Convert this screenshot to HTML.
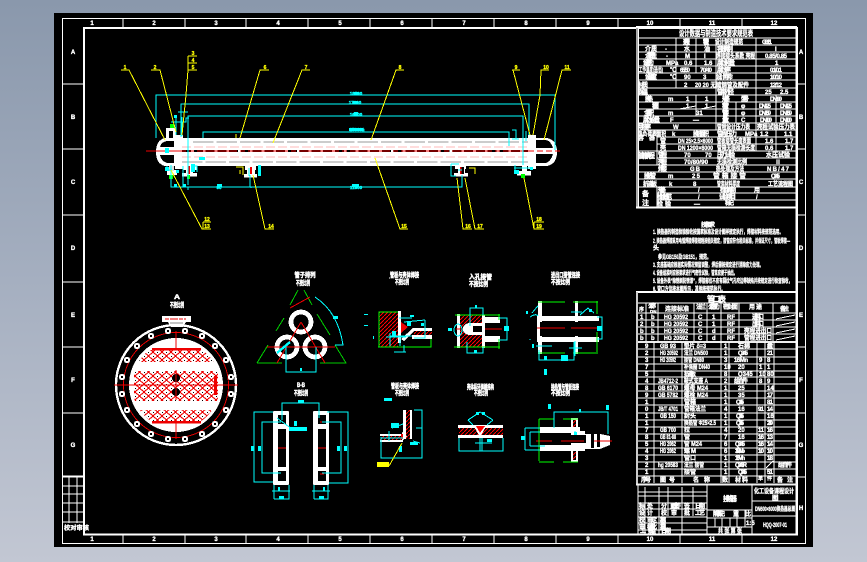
<!DOCTYPE html>
<html><head><meta charset="utf-8"><style>
html,body{margin:0;padding:0;width:867px;height:562px;overflow:hidden;background:linear-gradient(180deg,#8a98ac 0%,#a5afc0 50%,#c2c7d3 100%)}
svg{position:absolute;left:0;top:0}
text{font-family:"Liberation Sans","Noto Sans CJK SC",sans-serif;font-weight:bold}
.w text,text.w{fill:#fff;stroke:#fff;stroke-width:.35;font-size:6px}
.c text{fill:#0ff;stroke:#0ff;stroke-width:.4;font-size:4.5px}
.y text{fill:#ff0;stroke:#ff0;stroke-width:.3;font-size:5px}
.t text{fill:#fff;stroke:#fff;stroke-width:.5;font-size:6.5px}
</style></head><body>
<svg width="867" height="562" viewBox="0 0 867 562" shape-rendering="crispEdges">
<defs>
<pattern id="h" width="4" height="4" patternUnits="userSpaceOnUse"><rect width="4" height="4" fill="#000"/><path d="M0 4L4 0" stroke="#f00" stroke-width="1"/></pattern>
<pattern id="net" width="9" height="8" patternUnits="userSpaceOnUse"><rect width="9" height="8" fill="#fff"/><path d="M0 0L9 8M9 0L0 8" stroke="#e00" stroke-width="1.1"/><rect x="4" y="0" width="1" height="1" fill="#000"/><rect x="0" y="4" width="1" height="1" fill="#000"/></pattern>
<g id="bolt"><circle r="3.2" fill="#fff"/><circle r="1.2" fill="#000"/></g>
</defs>
<rect x="54" y="13" width="759" height="534" fill="#000"/>
<!-- sheet frames -->
<rect x="62.5" y="18.5" width="743" height="525" fill="none" stroke="#fff"/>
<rect x="84" y="28" width="713" height="506.5" fill="none" stroke="#fff" stroke-width="2"/>
<path d="M123 18V28M185 18V28M246 18V28M308 18V28M370 18V28M432 18V28M494 18V28M556 18V28M618 18V28M680 18V28M742 18V28M123 534V543M185 534V543M246 534V543M308 534V543M370 534V543M432 534V543M494 534V543M556 534V543M618 534V543M680 534V543M742 534V543M62 84H84M62 149H84M62 215H84M62 282H84M62 347H84M62 413H84M62 477H84M797 84H806M797 149H806M797 215H806M797 282H806M797 347H806M797 413H806M797 477H806" stroke="#fff" stroke-width="1"/>
<g class="w" text-anchor="middle" style="font-size:5px">
<text x="92" y="25">1</text><text x="154" y="25">2</text><text x="216" y="25">3</text><text x="278" y="25">4</text><text x="340" y="25">5</text><text x="402" y="25">6</text><text x="464" y="25">7</text><text x="526" y="25">8</text><text x="588" y="25">9</text><text x="650" y="25">10</text><text x="712" y="25">11</text><text x="774" y="25">12</text>
<text x="92" y="541">1</text><text x="154" y="541">2</text><text x="216" y="541">3</text><text x="278" y="541">4</text><text x="340" y="541">5</text><text x="402" y="541">6</text><text x="464" y="541">7</text><text x="526" y="541">8</text><text x="588" y="541">9</text><text x="650" y="541">10</text><text x="712" y="541">11</text><text x="774" y="541">12</text>
<text x="73" y="54">A</text><text x="73" y="119">B</text><text x="73" y="184">C</text><text x="73" y="250">D</text><text x="73" y="317">E</text><text x="73" y="382">F</text><text x="73" y="447">G</text>
<text x="801" y="54">A</text><text x="801" y="119">B</text><text x="801" y="184">C</text><text x="801" y="250">D</text><text x="801" y="317">E</text><text x="801" y="382">F</text><text x="801" y="447">G</text><text x="801" y="510">H</text>
</g>
<!-- lower left box -->
<path d="M62 476H84M62 486H84M62 494H84M62 503H84M62 512H84M62 522H84M69 476V523M77 476V523" stroke="#fff" fill="none"/>
<path d="M62 476.5H84" stroke="#fff" stroke-width="2"/>
<text class="w" x="64" y="530" textLength="25" lengthAdjust="spacingAndGlyphs">校对审核</text>

<!-- ===== main vessel ===== -->
<path d="M175 138H165Q156 140 156 152Q156 164 165 166H175Z" fill="#fff"/>
<path d="M174 141H167Q161 142 160 147H174ZM174 155H160Q161 161 167 163H174Z" fill="#000"/>
<rect x="175" y="135" width="8" height="34" fill="#fff"/>
<rect x="166" y="128" width="10" height="10" fill="#fff"/><rect x="169" y="131" width="4" height="7" fill="#000"/>
<rect x="167" y="170" width="10" height="5" fill="#fff"/><rect x="169" y="166" width="5" height="5" fill="#ddd"/>
<rect x="175" y="138" width="354" height="28" fill="#fff"/>
<path d="M193 142H528" stroke="#999" stroke-width="1.4" stroke-dasharray="20.5 3"/>
<path d="M182 162H528" stroke="#999" stroke-width="1.4" stroke-dasharray="20.5 3"/>
<path d="M182 147H528M182 157H528" stroke="#ffb8b8" stroke-width="1" stroke-dasharray="9 3"/>
<path d="M182 151H528" stroke="#000" stroke-width="2.4" stroke-dasharray="9 2.75"/>
<path d="M146 151H528" stroke="#e00" stroke-width="1" stroke-dasharray="40 3 5 3"/>
<rect x="528" y="135" width="8" height="34" fill="#fff"/>
<path d="M536 138H547Q557 140 557 152Q557 164 547 166H536Z" fill="#fff"/>
<path d="M536 140H546Q551 141 553 148H536ZM536 154H553Q551 161 546 163H536Z" fill="#000"/>
<path d="M528 151H560" stroke="#e00" stroke-dasharray="6 3"/>
<!-- saddles -->
<g fill="#fff">
<rect x="183" y="166" width="14" height="4"/><rect x="182" y="173" width="15" height="3.5"/><rect x="186" y="166" width="7" height="9"/>
<rect x="245" y="166" width="11" height="4"/><rect x="244" y="174" width="13" height="3.5"/><rect x="247" y="166" width="8" height="9"/>
<rect x="455" y="165" width="11" height="4"/><rect x="454" y="173" width="14" height="3.5"/><rect x="458" y="165" width="7" height="9"/>
<rect x="517" y="171" width="14" height="4.5"/><rect x="522" y="165" width="5" height="7"/>
</g>
<g fill="#e00"><rect x="188" y="166" width="2" height="8"/><rect x="250" y="167" width="2" height="7"/><rect x="461" y="167" width="3" height="7" fill="#000"/><rect x="460" y="167" width="1.4" height="7"/></g>
<g fill="#0f0"><rect x="170" y="124" width="4" height="4"/><rect x="169" y="175" width="4" height="4"/><rect x="187" y="175" width="3" height="4"/><rect x="521" y="174" width="4" height="4"/></g>
<!-- cyan dims main -->
<g fill="none" stroke="#0ff">
<path d="M156 138V95H555V150M181 137V104H529V135M188 185V116H523V165M203 138V132H509V146"/>
<path d="M171 165V187H462V175M250 175V187M183 166V187M188 187V190M251 187V188"/>
<path d="M171 122H186V118H189M178 112H188M176 118V135M182 117V136M193 166H197V172M167 166V170M165 170H172"/>
<path d="M526 131V141M512 130H516V139M512 139H519M451 164H459M451 164V176H456M514 168H533M515 165V172"/>
<path d="M249 168V176M458 170H462"/>
</g>
<g fill="#0ff"><rect x="165" y="148" width="4" height="5"/><rect x="165" y="167" width="4" height="4"/><rect x="174" y="115" width="3" height="3"/><rect x="199" y="157" width="6" height="3"/><rect x="514" y="170" width="5" height="4"/><rect x="176" y="170" width="3" height="3"/><rect x="191" y="164" width="4" height="8"/><rect x="258" y="165" width="3" height="11"/><rect x="530" y="167" width="3" height="3"/></g>
<g class="c" text-anchor="middle"><text x="356" y="95">18500</text><text x="355" y="104">17800</text><text x="356" y="116">16800</text><text x="357" y="131">15000±</text><text x="219" y="189">90</text><text x="356" y="189">11500</text><text x="356" y="189">●</text></g>
<rect x="352" y="184" width="5" height="3" fill="#0ff"/><rect x="354" y="92" width="5" height="3" fill="#0ff"/><rect x="353" y="101" width="5" height="3" fill="#0ff"/><rect x="354" y="112" width="4" height="4" fill="#0ff"/><rect x="349" y="128" width="14" height="3" fill="#0ff"/><rect x="354" y="184" width="5" height="3" fill="#0ff"/><rect x="174" y="184" width="3" height="3" fill="#0ff"/><rect x="183" y="184" width="3" height="3" fill="#0ff"/><rect x="217" y="184" width="5" height="3" fill="#0ff"/>
<!-- leaders -->
<g fill="none" stroke="#ff0">
<path d="M121 70H129L165 140M151 70H160L176 132M188 56H197M188 63H197M188 56V70H197M188 70L186 95L182 135"/>
<path d="M269 70H260L240 138M310 70H302L273 143M404 70H396L371 140"/>
<path d="M512 70H520M513 70L530 135M549 70H541L540 95L533 135M571 70H562L544 140"/>
<path d="M171 170L202 229H211M203 222H211M203 222V229M253 175L265 229H274M375 158L400 229H408M457 178L463 229H472M465 178L475 229H484M524 178L534 229H544M534 222H544M534 222V229"/>
</g>
<path d="M236 134V138" stroke="#ff0"/><path d="M236 167H243V175M240 170V174" stroke="#ff0" fill="none"/><path d="M469 168H475V174" stroke="#ff0" fill="none"/>
<g class="y" text-anchor="middle">
<text x="125" y="69">1</text><text x="155" y="69">2</text><text x="193" y="55">3</text><text x="193" y="62">4</text><text x="193" y="69">5</text><text x="265" y="69">6</text><text x="306" y="69">7</text><text x="400" y="69">8</text><text x="516" y="69">9</text><text x="546" y="69">10</text><text x="567" y="69">11</text>
<text x="207" y="221">12</text><text x="207" y="228">13</text><text x="271" y="228">14</text><text x="404" y="228">15</text><text x="468" y="228">16</text><text x="480" y="228">17</text><text x="539" y="221">18</text><text x="539" y="228">19</text>
</g>

<!-- ===== big circle ===== -->
<g class="t" text-anchor="middle"><text x="177" y="299" textLength="6" lengthAdjust="spacingAndGlyphs">A</text><text x="177" y="307" textLength="14" lengthAdjust="spacingAndGlyphs">不按比例</text></g>
<rect x="162" y="316" width="29" height="6" fill="#fff"/><path d="M165 319H186" stroke="#e00" stroke-dasharray="4 1 8 1"/><path d="M168 322L171 327H183L186 322Z" fill="#fff"/><path d="M170 323H183" stroke="#888"/>
<circle cx="176" cy="385" r="60" fill="none" stroke="#fff" stroke-width="2.4"/>
<circle cx="176" cy="385" r="52.5" fill="none" stroke="#e00" stroke-width=".9"/>
<circle cx="176" cy="385" r="47" fill="#fff"/>
<circle cx="176" cy="385" r="44" fill="#fff"/>
<clipPath id="cl"><circle cx="176" cy="385" r="44"/></clipPath>
<g clip-path="url(#cl)">
<rect x="136" y="350" width="82" height="12" fill="url(#net)"/>
<rect x="134" y="371" width="84" height="30" fill="url(#net)"/>
<rect x="136" y="410" width="82" height="13" fill="url(#net)"/>
<rect x="130" y="362" width="90" height="9" fill="#fff"/><rect x="130" y="401" width="90" height="9" fill="#fff"/>
<path d="M142 350H210V352H142ZM142 420H210V424H142Z" fill="#000" opacity="0"/>
</g>
<circle cx="176" cy="378" r="4" fill="#000"/><circle cx="176" cy="392" r="4" fill="#000"/>
<path d="M114 385H238M176 331V348M176 370V400M176 423V439" stroke="#e00"/>
<rect x="152" y="348" width="49" height="2.5" fill="#e00"/><rect x="152" y="421" width="49" height="2.5" fill="#e00"/><rect x="214" y="376" width="3" height="19" fill="#e00"/>
<use href="#bolt" x="168" y="331"/><use href="#bolt" x="185" y="331"/><use href="#bolt" x="151" y="336"/><use href="#bolt" x="202" y="336"/><use href="#bolt" x="137" y="346"/><use href="#bolt" x="215" y="346"/><use href="#bolt" x="127" y="360"/><use href="#bolt" x="226" y="360"/><use href="#bolt" x="122" y="377"/><use href="#bolt" x="231" y="377"/><use href="#bolt" x="122" y="394"/><use href="#bolt" x="231" y="394"/><use href="#bolt" x="127" y="410"/><use href="#bolt" x="226" y="410"/><use href="#bolt" x="137" y="424"/><use href="#bolt" x="215" y="424"/><use href="#bolt" x="151" y="434"/><use href="#bolt" x="202" y="434"/><use href="#bolt" x="168" y="439"/><use href="#bolt" x="185" y="439"/>

<!-- ===== triangle view ===== -->
<g class="t" text-anchor="middle"><text x="305" y="277" textLength="21" lengthAdjust="spacingAndGlyphs">管子排列</text><text x="303" y="285" textLength="14" lengthAdjust="spacingAndGlyphs">不按比例</text></g>
<g fill="none" stroke="#0c0"><path d="M257 363L268 345M276 331L284 318M290 305L298 290M304 290L312 305M317 314L330 335M335 345L346 363H320M282 363H257"/></g>
<g fill="none" stroke="#fff" stroke-width="4.8"><circle cx="301" cy="322" r="10"/><circle cx="287" cy="347" r="10"/><circle cx="315" cy="347" r="10"/></g>
<path d="M301 322L277 363M301 322L325 363M267 347H335M290 308L310 297" stroke="#e00" fill="none"/>
<path d="M315 297Q338 312 343 345H335" fill="none" stroke="#0ff"/><path d="M286 347V372H316V347" fill="none" stroke="#0ff"/>
<path d="M277 353L290 342" stroke="#0ff" stroke-width="2.4"/><rect x="333" y="316" width="5" height="3" fill="#0ff"/><rect x="300" y="368" width="2" height="3" fill="#0ff"/>

<!-- ===== plates ===== -->
<g class="t" text-anchor="middle"><text x="301" y="387" textLength="8" lengthAdjust="spacingAndGlyphs">B-B</text><text x="301" y="395" textLength="14" lengthAdjust="spacingAndGlyphs">不按比例</text></g>
<rect x="273" y="411" width="16" height="74" rx="1.5" fill="#fff"/><rect x="313" y="411" width="16" height="74" rx="1.5" fill="#fff"/>
<g fill="#000"><rect x="278" y="429" width="8" height="38"/><rect x="318" y="429" width="8" height="38"/><rect x="278" y="415" width="8" height="9"/><rect x="318" y="415" width="8" height="9"/><rect x="278" y="471" width="8" height="10"/><rect x="318" y="471" width="8" height="10"/></g>
<path d="M278 448H286M318 448H326M320 422H324M320 474H324" stroke="#e00"/>
<g fill="none" stroke="#0ff">
<path d="M282 420V403H319V418"/>
<path d="M273 412H254V482H273M281 422H262V473H281M327 412H348V483H329M322 422H341V473H322"/>
<path d="M274 485V499M289 485V499H274M314 485V499M328 485V499H314M272 491H290M312 491H330"/>
<path d="M277 418L292 429"/>
</g>
<g fill="#0ff"><rect x="298" y="400" width="6" height="3"/><rect x="289" y="427" width="18" height="4"/><rect x="294" y="421" width="3" height="5"/><rect x="251" y="446" width="3" height="5"/><rect x="258" y="446" width="3" height="5"/><rect x="337" y="446" width="3" height="5"/><rect x="344" y="446" width="3" height="5"/><rect x="278" y="487" width="2" height="4"/><rect x="323" y="487" width="2" height="4"/><rect x="279" y="496" width="5" height="3"/><rect x="319" y="496" width="5" height="3"/></g>

<!-- ===== view A ===== -->
<g class="t"><text x="390" y="277" textLength="29" lengthAdjust="spacingAndGlyphs">管板与壳体焊接</text><text x="395" y="284" textLength="14" lengthAdjust="spacingAndGlyphs">不按比例</text></g>
<path d="M389 278H390" stroke="#fff"/>
<rect x="379" y="312" width="19" height="35" fill="url(#h)"/>
<path d="M379 347V312H398M378 347H431V328" fill="none" stroke="#0f0"/>
<rect x="398" y="311" width="3" height="32" fill="#fff"/>
<path d="M401 322V333L408 327Z" fill="#e00"/>
<path d="M401 339L413 328H432V331H414L404 341ZM412 335H432V339H412Z" fill="#fff"/>
<rect x="414" y="331" width="18" height="4" fill="url(#h)"/>
<g fill="none" stroke="#0ff"><path d="M425 320V338H414M399 318H412M404 322L425 320M390 336H412M390 346V333M400 346V338M404 345V352M394 352H406M386 337H406"/></g>
<g fill="#0ff"><rect x="364" y="314" width="4" height="1"/><rect x="364" y="325" width="4" height="1"/><rect x="373" y="336" width="1" height="3"/><rect x="410" y="315" width="4" height="2"/><rect x="407" y="321" width="4" height="5"/><rect x="421" y="323" width="3" height="3"/><rect x="392" y="331" width="4" height="5"/></g>

<!-- ===== view B ===== -->
<g class="t"><text x="469" y="279" textLength="23" lengthAdjust="spacingAndGlyphs">入孔接管</text><text x="469" y="286" textLength="19" lengthAdjust="spacingAndGlyphs">不按比例</text></g>
<rect x="460" y="315" width="22" height="32" fill="url(#h)"/>
<path d="M463 329Q463 324 469 323H482V335H469Q463 334 463 329Z" fill="#fff"/><rect x="473" y="326" width="9" height="6" fill="#000"/>
<rect x="457" y="314" width="3" height="34" fill="#fff"/><rect x="482" y="315" width="3" height="33" fill="#fff"/>
<path d="M485 317H500V323H485ZM485 336H500V342H485Z" fill="#fff"/>
<path d="M485 329H502M456 329H461" stroke="#e00"/>
<path d="M455 315H500M454 347H500M499 314V320M499 339V349" stroke="#0f0" fill="none"/>
<g fill="none" stroke="#0ff"><ellipse cx="458" cy="330" rx="4" ry="6"/><path d="M470 326V308H483V315M467 342V353H483V347M499 318H507V340H499"/></g>
<g fill="#0ff"><rect x="448" y="328" width="4" height="3"/><rect x="475" y="305" width="2" height="3"/><rect x="504" y="326" width="5" height="5"/><rect x="474" y="350" width="3" height="3"/></g>

<!-- ===== view C ===== -->
<g class="t"><text x="551" y="277" textLength="29" lengthAdjust="spacingAndGlyphs">进出口接管连接</text><text x="551" y="284" textLength="19" lengthAdjust="spacingAndGlyphs">不按比例</text></g>
<rect x="538" y="301" width="4" height="53" fill="#fff"/><rect x="575" y="301" width="3" height="53" fill="#fff"/>
<rect x="537" y="316" width="62" height="5" fill="#fff"/><rect x="537" y="337" width="62" height="5" fill="#fff"/><rect x="537" y="316" width="3" height="26" fill="#fff"/>
<rect x="538" y="322" width="60" height="14" fill="#000"/><rect x="537" y="316" width="3" height="26" fill="#fff"/>
<path d="M537 328H565M571 328H597" stroke="#e00"/>
<path d="M538 302H565M573 302H598M538 353H565M573 353H598M597 301V314M597 332V352" stroke="#0f0" fill="none"/>
<g fill="none" stroke="#0ff"><path d="M597 317H602V339H597M539 350V360H574V342M530 339V340M532 313Q536 308 538 306M530 317Q536 313 538 316M571 312H582M580 315L588 308L594 313M569 348H582M575 341V356M536 346H552"/></g>
<g fill="#0ff"><rect x="597" y="326" width="5" height="5"/><rect x="561" y="355" width="7" height="6"/><rect x="544" y="356" width="3" height="4"/><rect x="544" y="369" width="3" height="6"/><rect x="526" y="311" width="2" height="3"/><rect x="589" y="309" width="3" height="3"/><rect x="532" y="344" width="2" height="4"/></g>

<!-- ===== view D ===== -->
<g class="t"><text x="391" y="388" textLength="28" lengthAdjust="spacingAndGlyphs">管板与壳体焊接</text><text x="395" y="395" textLength="14" lengthAdjust="spacingAndGlyphs">不按比例</text></g>
<rect x="403" y="410" width="3" height="29" fill="#fff"/><rect x="410" y="410" width="2" height="29" fill="#fff"/><rect x="406" y="410" width="4" height="29" fill="url(#h)"/>
<path d="M380 434H402V436H380ZM380 440H403V442H380Z" fill="#fff"/><rect x="380" y="436" width="22" height="4" fill="url(#h)"/>
<path d="M402 432L407 436L402 441Z" fill="#fff"/><rect x="401" y="434" width="2" height="5" fill="#e00"/>
<g fill="none" stroke="#0ff"><path d="M381 437V458H422V410H414M416 428H422M389 431V441M381 438H403M392 428L403 424M413 441L420 443"/></g>
<g fill="#0ff"><rect x="384" y="398" width="8" height="3"/><rect x="391" y="423" width="8" height="5"/><rect x="399" y="446" width="3" height="6"/><rect x="410" y="442" width="8" height="3"/></g>
<path d="M402 443L389 466" stroke="#ff0"/><rect x="377" y="462" width="12" height="5" fill="#ff0"/>

<!-- ===== view E ===== -->
<g class="t"><text x="467" y="389" textLength="27" lengthAdjust="spacingAndGlyphs">壳体纵环焊缝结构</text><text x="474" y="395" textLength="14" lengthAdjust="spacingAndGlyphs">不按比例</text></g>
<rect x="458" y="425" width="45" height="3" fill="#fff"/><rect x="458" y="435" width="45" height="3" fill="#fff"/>
<rect x="459" y="428" width="44" height="7" fill="url(#h)"/>
<path d="M473 425H487L480 437Z" fill="#fff"/><path d="M476 426H485L480 433Z" fill="#f00"/>
<g fill="none" stroke="#0ff"><path d="M459 438V451H503V438M480 438V451M482 438V451M468 420L480 412L493 420M468 420L473 425M493 420L487 425M475 443H492"/></g>
<g fill="#0ff"><rect x="476" y="412" width="3" height="3"/><rect x="482" y="412" width="3" height="3"/><rect x="487" y="439" width="5" height="3"/></g>

<!-- ===== view F ===== -->
<g class="t"><text x="551" y="389" textLength="28" lengthAdjust="spacingAndGlyphs">换热管与管板连接</text><text x="551" y="395" textLength="19" lengthAdjust="spacingAndGlyphs">不按比例</text></g>
<rect x="571" y="418" width="7" height="44" fill="#fff"/><rect x="573" y="420" width="3" height="40" fill="url(#h)"/>
<rect x="540" y="427" width="40" height="6" fill="#fff"/><rect x="540" y="445" width="40" height="6" fill="#fff"/>
<path d="M580 431H585V434H600L610 436V445L600 449H585V451H572V433H578V431Z" fill="#fff"/>
<rect x="556" y="435" width="32" height="8" fill="#000"/><rect x="586" y="435" width="5" height="8" fill="#fff"/><rect x="591" y="433" width="3" height="15" fill="#000"/><rect x="597" y="434" width="3" height="13" fill="#000"/>
<path d="M536 441H552M561 441H584M594 441H612" stroke="#e00"/>
<path d="M539 419V461M539 419H554M563 419H578M539 462H554M563 462H578" stroke="#0f0" fill="none"/>
<g fill="none" stroke="#0ff"><path d="M554 428V412H608V434M525 428H540M525 450H540M525 428V450M530 432H540M530 446H545M530 432V446M575 431V433"/></g>
<g fill="#0ff"><rect x="521" y="436" width="4" height="4"/><rect x="579" y="409" width="2" height="3"/><rect x="606" y="405" width="3" height="5"/><rect x="548" y="404" width="3" height="5"/><rect x="574" y="432" width="3" height="3"/></g>

<!-- ===== design data table ===== -->
<path d="M636 27H797" stroke="#fff" stroke-width="2"/>
<rect x="636" y="28" width="2" height="180" fill="#aaa"/>
<path d="M638 38H796M638 45H796M638 52H796M638 59H796M638 66H796M638 73H796M638 80H796M638 88H796M638 95H796M638 102H796M638 109H796M638 116H796M638 123H796M638 130H796M657 137H796M657 144H796M638 151H796M657 158H796M638 165H796M638 172H796M638 179H796M638 187H796M657 193H796M657 200H796" stroke="#fff"/>
<path d="M638.5 28V207M676 38V88M696 38V73M716 38V130M756 38V151M776 95V123M736 102V123M776 130V151M657 130V165M696 95V116M657 187V207" stroke="#fff" fill="none"/>
<path d="M636 207.5H797" stroke="#fff" stroke-width="2"/>
<path d="M679 109L696 106M700 109L716 106" stroke="#fff"/>
<g class="w" style="font-size:5.5px">
<text x="679" y="36" style="font-size:8px" textLength="74" lengthAdjust="spacingAndGlyphs">设计数据与制造技术要求规范表</text>
<text x="683" y="44" textLength="7">壳程</text><text x="703" y="44" textLength="6">管程</text><text x="715" y="44" textLength="28" lengthAdjust="spacingAndGlyphs">设计制造规范</text><text x="762" y="44" textLength="10">GB151</text>
<text x="645" y="51" textLength="12">介质</text><text x="665" y="51">-</text><text x="684" y="51" textLength="4">水</text><text x="704" y="51">油</text><text x="717" y="51" textLength="16">容器类别</text><text x="775" y="51">I</text>
<text x="645" y="58" textLength="12">介质特性</text><text x="666" y="58">-</text><text x="685" y="58">M</text><text x="704" y="58">I</text><text x="716" y="58" textLength="39" lengthAdjust="spacingAndGlyphs">焊接接头系数 壳程</text><text x="765" y="58" textLength="22">0.85/0.85</text>
<text x="643" y="65" textLength="11">设计压力</text><text x="666" y="65">MPa</text><text x="684" y="65">0.6</text><text x="704" y="65">1.6</text><text x="717" y="65" textLength="18">腐蚀裕量</text><text x="775" y="65">1</text>
<text x="639" y="72" textLength="24" lengthAdjust="spacingAndGlyphs">工作温度(进/出)</text><text x="670" y="72">℃</text><text x="680" y="72" textLength="10">65/50</text><text x="700" y="72" textLength="12">70/40</text><text x="717" y="72" textLength="14">腐蚀率</text><text x="770" y="72" textLength="12">0.1/0.1</text>
<text x="645" y="79" textLength="12">设计温度</text><text x="670" y="79">℃</text><text x="684" y="79">90</text><text x="703" y="79">3</text><text x="716" y="79" textLength="17">设计寿命</text><text x="770" y="79" textLength="12">10/10</text>
<text x="638" y="87" textLength="10">材质</text><text x="684" y="87">2</text><text x="695" y="87" textLength="54" lengthAdjust="spacingAndGlyphs">20 20 无缝钢管及配件</text><text x="770" y="87" textLength="12">12/12</text>
<text x="638" y="94" textLength="10">保温</text><text x="717" y="94" textLength="17">管束外径</text><text x="765" y="94">25</text><text x="780" y="94">2.5</text>
<text x="645" y="101" textLength="8">换热</text><text x="668" y="101">m</text><text x="686" y="101">1</text><text x="705" y="101">1</text><text x="722" y="101" textLength="8">规格</text><text x="741" y="101" textLength="8">型号</text><text x="770" y="101" textLength="12">DN600</text>
<text x="652" y="108" textLength="5">面积</text><text x="686" y="108">1</text><text x="705" y="108">1</text><text x="722" y="108" textLength="5">管程</text><text x="741" y="108">φ</text><text x="759" y="108" textLength="12">DN125</text><text x="780" y="108" textLength="12">DN125</text>
<text x="644" y="115" textLength="10">全容积</text><text x="668" y="115">m</text><text x="696" y="115">31</text><text x="722" y="115" textLength="5">接管</text><text x="741" y="115">φ</text><text x="759" y="115" textLength="12">DN150</text><text x="780" y="115" textLength="12">DN150</text>
<text x="643" y="122" textLength="17">腐蚀余量</text><text x="670" y="122">F</text><text x="693" y="122" textLength="10">—</text><text x="722" y="122" textLength="5">数量</text><text x="741" y="122">C</text><text x="760" y="122" textLength="12">DN100</text><text x="780" y="122" textLength="12">DN100</text>
<text x="638" y="129" textLength="13">导热率</text><text x="673" y="129">W</text><text x="717" y="129" textLength="33" lengthAdjust="spacingAndGlyphs">管程设计压力表</text><text x="757" y="129" textLength="38" lengthAdjust="spacingAndGlyphs">壳程试验压力表</text>
<text x="638" y="136" textLength="28" lengthAdjust="spacingAndGlyphs">热负荷表面积</text><text x="672" y="136">k</text><text x="693" y="136" textLength="16">换热面积</text><text x="717" y="136" textLength="20">管程压力</text><text x="745" y="136">MPa</text><text x="760" y="136">1.2</text><text x="784" y="136">1.1</text>
<text x="660" y="143">管</text><text x="678" y="143" textLength="35" lengthAdjust="spacingAndGlyphs">DN 25×2.5×6000</text><text x="717" y="143" textLength="34" lengthAdjust="spacingAndGlyphs">管板接管长度表面</text><text x="765" y="143">1.6</text><text x="785" y="143">1.7</text>
<text x="660" y="150">壳</text><text x="678" y="150" textLength="35" lengthAdjust="spacingAndGlyphs">DN 1200×6000</text><text x="717" y="150" textLength="38" lengthAdjust="spacingAndGlyphs">管箱无损检测长度</text><text x="765" y="150">0.6</text><text x="785" y="150">1.7</text>
<text x="638" y="140" textLength="17">容器</text><text x="638" y="158" textLength="17" style="font-size:7px">管箱壳程</text>
<text x="658" y="157" textLength="9">管程</text><text x="684" y="157">70</text><text x="705" y="157">70</text><text x="717" y="157" textLength="18">压力试验</text><text x="766" y="157" textLength="24" lengthAdjust="spacingAndGlyphs">水压试验</text>
<text x="658" y="164" textLength="9">壳程</text><text x="684" y="164" textLength="24" lengthAdjust="spacingAndGlyphs">70/80/90</text><text x="717" y="164" textLength="30" lengthAdjust="spacingAndGlyphs">无损检测比例</text><text x="775" y="164">Ⅱ</text>
<text x="658" y="171" textLength="9">焊接</text><text x="690" y="171" textLength="10">GB</text><text x="716" y="171" textLength="28" lengthAdjust="spacingAndGlyphs">热处理及方法</text><text x="767" y="171" textLength="22">NB/47</text>
<text x="644" y="178" textLength="12">换热管</text><text x="668" y="178">m</text><text x="692" y="178" textLength="8">25</text><text x="713" y="178" textLength="33" lengthAdjust="spacingAndGlyphs">管 箱 接 管</text><text x="771" y="178" textLength="9">Q345</text>
<text x="643" y="186" textLength="14">折流板</text><text x="669" y="186">k</text><text x="693" y="186" textLength="6">8</text><text x="717" y="186" textLength="23" lengthAdjust="spacingAndGlyphs">管束材料厚度</text><text x="768" y="186" textLength="25" lengthAdjust="spacingAndGlyphs">工艺流程图</text>
<text x="642" y="196" style="font-size:7px">备</text><text x="642" y="205" style="font-size:7px">注</text>
<text x="658" y="192" textLength="8">规格</text><text x="698" y="192">/</text><text x="720" y="192" textLength="16">检验周期</text><text x="754" y="192">用</text>
<text x="657" y="199" textLength="15">检验规范</text><text x="698" y="199">/</text><text x="719" y="199" textLength="17">试验项目</text><text x="756" y="199">/</text>
<text x="657" y="206" textLength="14">检验</text><text x="694" y="206" textLength="6">—</text><text x="725" y="205" textLength="9">标记</text>
</g>

<!-- ===== notes ===== -->
<g class="w" style="font-size:6.5px">
<text x="701" y="227" textLength="14">技术要求</text>
<text x="653" y="234" textLength="130" lengthAdjust="spacingAndGlyphs">1. 换热器的制造检验验收按国家标准及设计图样规定执行，焊接材料按规范选用。</text>
<text x="653" y="243" textLength="137" lengthAdjust="spacingAndGlyphs">2. 换热器焊接采用电弧焊接焊接规程按相关规定，接管应符合相关标准，并保证尺寸，管板焊接—</text>
<text x="653" y="250" textLength="5">头</text>
<text x="658" y="259" textLength="53" lengthAdjust="spacingAndGlyphs">参见GB150及GB151，规范。</text>
<text x="653" y="267" textLength="110" lengthAdjust="spacingAndGlyphs">3. 支座基础应根据实际情况预留调整，焊后需按规定进行消除应力处理。</text>
<text x="653" y="275" textLength="84" lengthAdjust="spacingAndGlyphs">4. 设备组装时应按要求进行气密性试验，管束应便于抽出。</text>
<text x="653" y="283" textLength="139" lengthAdjust="spacingAndGlyphs">5. 设备外表“除锈刷防锈漆”，焊接部位不应有裂纹气孔咬边等缺陷并按规定进行检查验收，</text>
<text x="653" y="291" textLength="72" lengthAdjust="spacingAndGlyphs">6. 管口方位按本图所示，其他按规范执行。</text>
</g>

<!-- ===== nozzle table ===== -->
<path d="M636 292H797" stroke="#fff" stroke-width="2.2"/>
<rect x="636" y="292" width="2" height="192" fill="#ccc"/>
<path d="M638 303H796M638 313H796M638 320H796M638 327H796M638 334H796" stroke="#fff"/>
<path d="M646 303V342M658 303V342M694 303V342M707 303V342M721 303V342M739 303V342M773 303V342" stroke="#fff" fill="none"/>
<path d="M638 342H796" stroke="#eee" stroke-width="2"/>
<path d="M776 319L795 315M776 326L795 322M776 333L795 329M776 340L795 336" stroke="#fff"/>
<g class="w" style="font-size:5.5px">
<text x="707" y="302" style="font-size:8px" textLength="19">管口表</text>
<text x="639" y="311" style="font-size:5px">序</text><text x="648" y="308" textLength="8">公称</text><text x="650" y="313" style="font-size:4.5px">DN</text><text x="665" y="311" textLength="24" lengthAdjust="spacingAndGlyphs">连接标准</text><text x="696" y="309" textLength="10">法兰</text><text x="708" y="309" textLength="12">公称压力</text><text x="723" y="309" textLength="15">密封面</text><text x="749" y="309" textLength="13">用途</text><text x="780" y="311" textLength="9">备注</text>
<text x="640" y="319">1</text><text x="651" y="319">b</text><text x="664" y="319" textLength="24" lengthAdjust="spacingAndGlyphs">HG 20592</text><text x="698" y="319">C</text><text x="712" y="319">1</text><text x="727" y="319">RF</text><text x="752" y="319" textLength="12">进料口</text>
<text x="640" y="326">2</text><text x="651" y="326">b</text><text x="664" y="326" textLength="24" lengthAdjust="spacingAndGlyphs">HG 20592</text><text x="698" y="326">C</text><text x="712" y="326">1</text><text x="727" y="326">RF</text><text x="752" y="326" textLength="12">出料口</text>
<text x="640" y="333">b</text><text x="651" y="333">b</text><text x="664" y="333" textLength="24" lengthAdjust="spacingAndGlyphs">HG 20592</text><text x="698" y="333">C</text><text x="712" y="333">d</text><text x="727" y="333">RF</text><text x="744" y="333" textLength="28" lengthAdjust="spacingAndGlyphs">壳程进出口</text>
<text x="640" y="340">b</text><text x="651" y="340">b</text><text x="664" y="340" textLength="24" lengthAdjust="spacingAndGlyphs">HG 20592</text><text x="698" y="340">C</text><text x="712" y="340">d</text><text x="727" y="340">RF</text><text x="744" y="340" textLength="28" lengthAdjust="spacingAndGlyphs">管程进出口</text>
</g>

<!-- ===== parts list ===== -->
<path d="M638 349H796M638 357H796M638 364H796M638 371H796M638 377H796M638 384H796M638 391H796M638 398H796M638 405H796M638 413H796M638 420H796M638 427H796M638 434H796M638 441H796M638 448H796M638 455H796M638 462H796M638 469H796M638 476H796" stroke="#fff"/>
<path d="M654 342V483M682 342V483M721 342V483M729 342V483M757 342V483M765 342V483M774 342V483M796 28V534" stroke="#fff" fill="none"/>
<path d="M766 468L773 461" stroke="#fff"/>
<g class="w" style="font-size:5.2px">
<text x="645" y="348">9</text><text x="660" y="348" textLength="16" lengthAdjust="spacingAndGlyphs">GB 93</text><text x="684" y="348" textLength="22" lengthAdjust="spacingAndGlyphs">垫片 δ=3</text><text x="724" y="348">1</text><text x="738" y="348">石棉</text><text x="767" y="348" textLength="6">组合</text>
<text x="645" y="355">2</text><text x="660" y="355" textLength="18" lengthAdjust="spacingAndGlyphs">HG 20592</text><text x="684" y="355" textLength="24" lengthAdjust="spacingAndGlyphs">法兰 DN500</text><text x="724" y="355">1</text><text x="738" y="355" textLength="10">Q345</text><text x="767" y="355" textLength="6">2.1</text>
<text x="645" y="362">3</text><text x="660" y="362" textLength="16" lengthAdjust="spacingAndGlyphs">HG 20592</text><text x="684" y="362" textLength="20" lengthAdjust="spacingAndGlyphs">接管 DN80</text><text x="724" y="362">3</text><text x="734" y="362" textLength="14">16Mn</text><text x="759" y="362">9</text><text x="767" y="362">8</text>
<text x="645" y="369">7</text><text x="684" y="369" textLength="26" lengthAdjust="spacingAndGlyphs">补强圈 DN40</text><text x="724" y="369">10</text><text x="738" y="369">20</text><text x="759" y="369">1</text><text x="767" y="369">1</text>
<text x="645" y="376">5</text><text x="684" y="376" textLength="12">折流板</text><text x="724" y="376">8</text><text x="738" y="376">Q345</text><text x="759" y="376">10</text><text x="767" y="376">80</text>
<text x="645" y="383">4</text><text x="658" y="383" textLength="20" lengthAdjust="spacingAndGlyphs">JB4712-2</text><text x="684" y="383" textLength="24" lengthAdjust="spacingAndGlyphs">鞍式支座 A</text><text x="724" y="383">2</text><text x="734" y="383" textLength="14">组合件</text><text x="759" y="383">8</text><text x="767" y="383">9</text>
<text x="645" y="390">8</text><text x="658" y="390" textLength="20" lengthAdjust="spacingAndGlyphs">GB 6170</text><text x="684" y="390" textLength="24" lengthAdjust="spacingAndGlyphs">螺母 M24</text><text x="724" y="390">1</text><text x="738" y="390">25</text><text x="767" y="390">14</text>
<text x="645" y="397">9</text><text x="658" y="397" textLength="20" lengthAdjust="spacingAndGlyphs">GB 5782</text><text x="684" y="397" textLength="24" lengthAdjust="spacingAndGlyphs">螺栓 M24</text><text x="724" y="397">1</text><text x="738" y="397">35</text><text x="767" y="397" textLength="6">1.7</text>
<text x="645" y="404">1</text><text x="684" y="404" textLength="12">管箱</text><text x="724" y="404">1</text><text x="736" y="404" textLength="8">Q345</text><text x="767" y="404" textLength="6">8.1</text>
<text x="645" y="411">0</text><text x="658" y="411" textLength="20" lengthAdjust="spacingAndGlyphs">JB/T 4701</text><text x="684" y="411" textLength="22" lengthAdjust="spacingAndGlyphs">管箱法兰</text><text x="724" y="411">4</text><text x="738" y="411">16</text><text x="758" y="411" textLength="6">9.1</text><text x="767" y="411" textLength="6">14</text>
<text x="645" y="418">1</text><text x="660" y="418" textLength="16" lengthAdjust="spacingAndGlyphs">GB 150</text><text x="684" y="418" textLength="12">封头</text><text x="724" y="418">1</text><text x="736" y="418" textLength="8">Q345</text><text x="767" y="418">16</text>
<text x="645" y="425">1</text><text x="684" y="425" textLength="32" lengthAdjust="spacingAndGlyphs">换热管 Φ25×2.5</text><text x="724" y="425">1</text><text x="736" y="425" textLength="8">Q345</text><text x="767" y="425" textLength="6">230</text>
<text x="645" y="432">7</text><text x="660" y="432" textLength="16" lengthAdjust="spacingAndGlyphs">GB 700</text><text x="684" y="432">拉</text><text x="724" y="432">4</text><text x="738" y="432">20</text><text x="758" y="432" textLength="6">1.1</text><text x="767" y="432" textLength="6">16</text>
<text x="645" y="439">8</text><text x="660" y="439" textLength="16" lengthAdjust="spacingAndGlyphs">GB 81-88</text><text x="684" y="439">管</text><text x="724" y="439">7</text><text x="738" y="439">16</text><text x="758" y="439" textLength="6">1.6</text><text x="767" y="439" textLength="6">1.3</text>
<text x="645" y="446">5</text><text x="660" y="446" textLength="16" lengthAdjust="spacingAndGlyphs">HG 2062</text><text x="684" y="446" textLength="18" lengthAdjust="spacingAndGlyphs">管 M24</text><text x="724" y="446">6</text><text x="735" y="446" textLength="10">Q345</text><text x="758" y="446" textLength="6">1.6</text><text x="767" y="446" textLength="6">1.4</text>
<text x="645" y="453">4</text><text x="660" y="453" textLength="16" lengthAdjust="spacingAndGlyphs">HG 2062</text><text x="684" y="453" textLength="12">螺 M</text><text x="724" y="453">6</text><text x="735" y="453" textLength="10">35CrMo</text><text x="758" y="453" textLength="6">1.0</text><text x="767" y="453" textLength="6">1.0</text>
<text x="645" y="460">3</text><text x="684" y="460" textLength="12">管口</text><text x="724" y="460">1</text><text x="735" y="460" textLength="10">16Mn</text><text x="767" y="460" textLength="6">1.8</text>
<text x="645" y="467">2</text><text x="658" y="467" textLength="20" lengthAdjust="spacingAndGlyphs">hg 20583</text><text x="684" y="467" textLength="20" lengthAdjust="spacingAndGlyphs">法兰 接管</text><text x="724" y="467">1</text><text x="735" y="467" textLength="12">Q345R</text><text x="778" y="467" textLength="14">组合件</text>
<text x="645" y="474">1</text><text x="684" y="474" textLength="12">接管</text><text x="724" y="474">1</text><text x="738" y="474" textLength="9">Q345</text><text x="767" y="474" textLength="6">5.1</text>
<text x="641" y="482" textLength="10" style="font-size:6px">序 号</text><text x="660" y="482" textLength="15" style="font-size:6px">图 号</text><text x="693" y="482" textLength="17" style="font-size:6px">名 称</text><text x="722" y="482" textLength="6" style="font-size:6px">数</text><text x="735" y="482" textLength="13" style="font-size:6px">材 料</text><text x="758" y="480" textLength="14" style="font-size:5px">单件</text><text x="777" y="482" textLength="16" style="font-size:6px">备 注</text>
</g>

<!-- ===== title block ===== -->
<path d="M636 484.5H797" stroke="#eee" stroke-width="2.2"/>
<path d="M638 484V534M707 484V534M752 484V534" stroke="#fff" fill="none"/>
<path d="M638 492H707M638 496H707M638 503H707M638 509H707M638 517H707M638 523H707M638 530H707M645 487V534M659 487V534M668 487V516M682 487V534M693 487V516M707 510H752M707 518H752M707 527H752M715 518V527M722 518V527M730 518V527M737 510V527M745 510V527M752 501H796M752 516H796" stroke="#fff" fill="none"/>
<g class="w" style="font-size:5.5px">
<text x="723" y="501" style="font-size:7px" textLength="14">换热器</text>
<text x="754" y="493" style="font-size:6.5px" textLength="40" lengthAdjust="spacingAndGlyphs">化工设备课程设计</text><text x="772" y="500" style="font-size:6.5px">图</text>
<text x="755" y="511" style="font-size:6px" textLength="40" lengthAdjust="spacingAndGlyphs">DN600×6000换热器总图</text>
<text x="763" y="527" style="font-size:6px" textLength="24" lengthAdjust="spacingAndGlyphs">HQQ-2007-01</text>
<text x="713" y="516" textLength="12">阶段标记</text><text x="733" y="516">重</text><text x="745" y="516">比</text><text x="746" y="525">1:5</text>
<text x="718" y="533" textLength="24" lengthAdjust="spacingAndGlyphs">共 张 第 张</text>
<text x="639" y="508">标</text><text x="647" y="508">处</text><text x="661" y="508">分</text><text x="670" y="508" textLength="11">更改文件</text><text x="684" y="508">签</text><text x="695" y="508" textLength="10">日期</text>
<text x="639" y="515">设</text><text x="647" y="515">计</text><text x="661" y="515" textLength="5">校</text><text x="671" y="515">审</text><text x="684" y="515">批</text><text x="695" y="515" textLength="10">工艺</text>
<text x="639" y="522">校</text><text x="647" y="522" textLength="10">审定</text><text x="660" y="522" textLength="6">标准</text>
<text x="639" y="529">审</text><text x="647" y="529" textLength="10">标准化</text><text x="660" y="529" textLength="6">日期</text>
<text x="640" y="533">工</text><text x="648" y="533" textLength="8">批准</text><text x="661" y="533" textLength="10">日期</text>
</g>
</svg>
</body></html>
